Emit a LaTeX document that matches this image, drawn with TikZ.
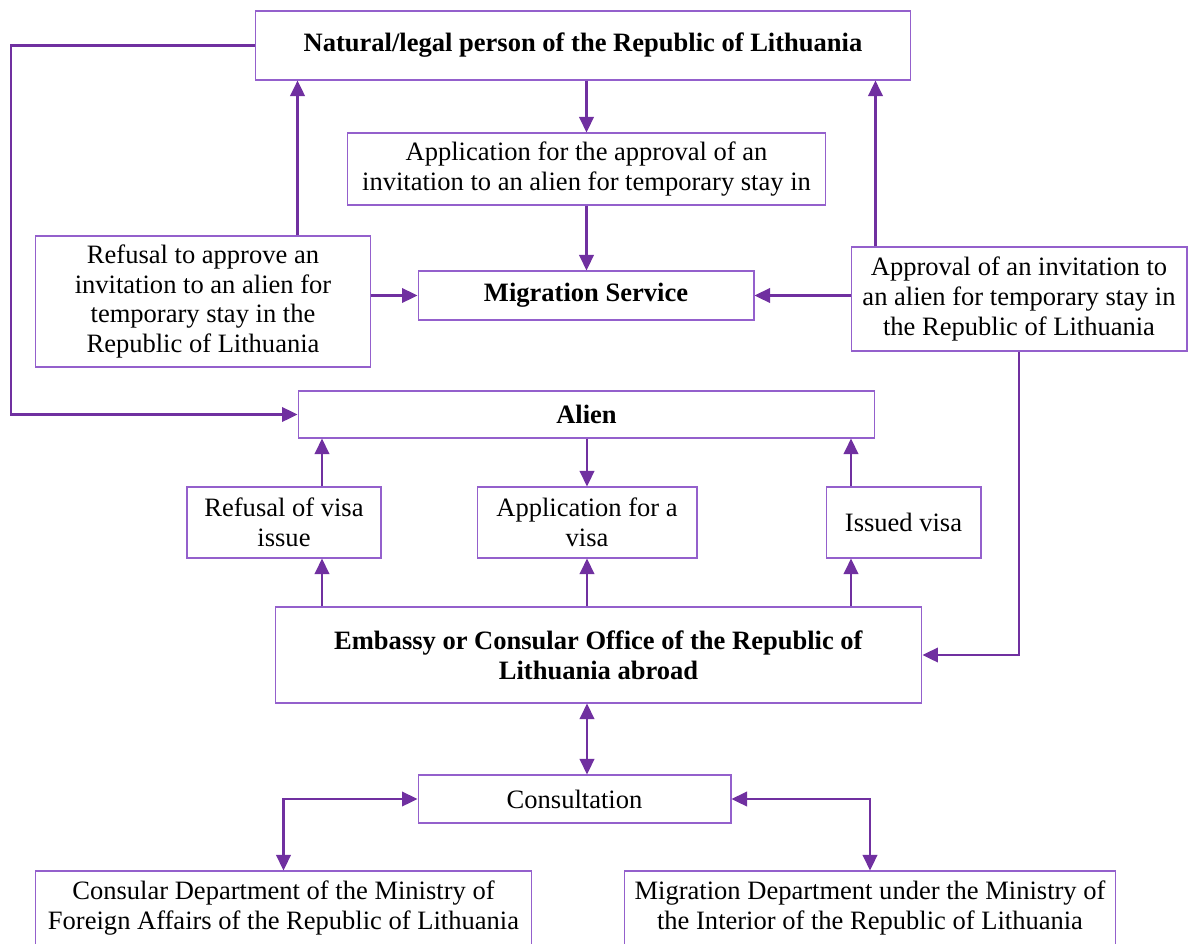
\documentclass[tikz,border=0pt]{standalone}
\usepackage{fontspec}
\setmainfont{Liberation Serif}
\usepackage{xcolor}
\usetikzlibrary{arrows.meta}

\definecolor{lineviolet}{HTML}{7030A0}
\definecolor{boxviolet}{HTML}{9460CC}

\tikzset{
    box/.style={draw=boxviolet, line width=0.6pt, fill=white, align=center, inner sep=0pt, font=\fontsize{15.1}{17}\selectfont},
    link/.style={draw=lineviolet, line width=1.3pt, -{Triangle[length=3.1mm,width=2.9mm]}},
    twolink/.style={link, {Triangle[length=3.1mm,width=2.9mm]}-{Triangle[length=3.1mm,width=2.9mm]}}
}

\begin{document}
\begin{tikzpicture}[x=0.02cm, y=-0.02cm]
    \useasboundingbox (0,0) rectangle (1189,943);

    % upper part
    \node[box, minimum width=13.12cm, minimum height=1.38cm] (nat) at (583,45.5) {\textbf{Natural/legal person of the Republic of Lithuania}};
    \node[box, minimum width=9.58cm, minimum height=1.44cm] (appl) at (586.5,169) {Application for the approval of an\\invitation to an alien for temporary stay in};
    \node[box, minimum width=6.72cm, minimum height=0.98cm] (ms) at (586,295.5) {\textbf{Migration Service}};
    \node[box, minimum width=6.72cm, minimum height=2.62cm] (refu) at (203,301.5) {Refusal to approve an\\invitation to an alien for\\temporary stay in the\\Republic of Lithuania};
    \node[box, minimum width=6.72cm, minimum height=2.08cm] (appr) at (1019,299) {Approval of an invitation to\\an alien for temporary stay in\\the Republic of Lithuania};
    \node[box, minimum width=11.54cm, minimum height=0.94cm] (alien) at (586.5,414.5) {\textbf{Alien}};

    % visa part
    \node[box, minimum width=3.88cm, minimum height=1.42cm] (rvisa) at (284,522.5) {Refusal of visa\\issue};
    \node[box, minimum width=4.4cm, minimum height=1.42cm] (avisa) at (587,522.5) {Application for a\\visa};
    \node[box, minimum width=3.1cm, minimum height=1.42cm] (ivisa) at (903.5,522.5) {Issued visa};
    \node[box, minimum width=12.94cm, minimum height=1.92cm] (emb) at (598.5,655) {\textbf{Embassy or Consular Office of the Republic of}\\\textbf{Lithuania abroad}};

    % consultation part
    \node[box, minimum width=6.26cm, minimum height=0.96cm] (cons) at (574.5,799) {Consultation};
    \node[box, minimum width=9.94cm, minimum height=1.48cm] (cdep) at (283.5,908) {Consular Department of the Ministry of\\Foreign Affairs of the Republic of Lithuania};
    \node[box, minimum width=9.84cm, minimum height=1.48cm] (mdep) at (870,908) {Migration Department under the Ministry of\\the Interior of the Republic of Lithuania};

    \coordinate (lft) at (11,0);
    \coordinate (lv) at (322,0);
    \coordinate (rv) at (851,0);

    \draw[link] (nat.south -| appl.north) -- (appl.north);
    \draw[link] (appl.south) -- (appl.south |- ms.north);
    \draw[link] (refu.north -| alien.west) -- (nat.south -| alien.west);
    \draw[link] (appr.north -| alien.east) -- (nat.south -| alien.east);
    \draw[link] (refu.east |- ms.west) -- (ms.west);
    \draw[link] (appr.west |- ms.east) -- (ms.east);
    \draw[link] (nat.west) -| (lft |- alien.west) -- (alien.west);
    \draw[link] (appr.south) |- (emb.east);

    \draw[link] (alien.south -| avisa.north) -- (avisa.north);
    \foreach \v/\b in {lv/rvisa, rv/ivisa}{
        \draw[link] (\b.north -| \v) -- (alien.south -| \v);
        \draw[link] (emb.north -| \v) -- (\b.south -| \v);
    }
    \draw[link] (emb.north -| avisa.south) -- (avisa.south);

    \draw[twolink] (emb.south -| avisa.south) -- (cons.north -| avisa.south);
    \draw[twolink] (cons.west) -| (cdep.north);
    \draw[twolink] (cons.east) -| (mdep.north);
\end{tikzpicture}
\end{document}
